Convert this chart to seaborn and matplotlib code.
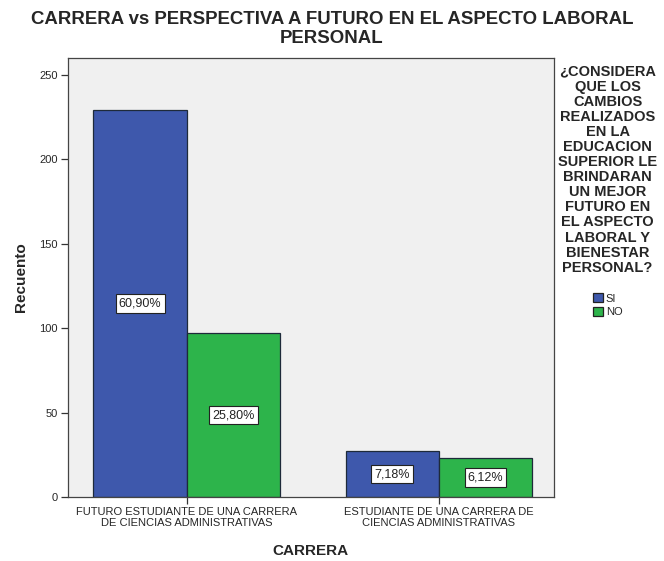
import matplotlib
matplotlib.use("Agg")
import matplotlib.pyplot as plt
import seaborn as sns
import pandas as pd

# data
carreras = [
    "FUTURO ESTUDIANTE DE UNA CARRERA\nDE CIENCIAS ADMINISTRATIVAS",
    "ESTUDIANTE DE UNA CARRERA DE\nCIENCIAS ADMINISTRATIVAS",
]
respuestas = ["SI", "NO"]
recuento_si = [229, 27]
recuento_no = [97, 23]

df = pd.DataFrame({
    "CARRERA": carreras * 2,
    "respuesta": ["SI"] * 2 + ["NO"] * 2,
    "Recuento": recuento_si + recuento_no,
})
total = df["Recuento"].sum()

sns.set_theme(style="white")
plt.rcParams["font.family"] = ["Liberation Sans", "DejaVu Sans"]

fig = plt.figure(figsize=(6.64, 5.61), dpi=100)
ax = fig.add_axes([0.102, 0.114, 0.732, 0.783])
ax.set_facecolor("#F0F0F0")

sns.barplot(
    data=df, x="CARRERA", y="Recuento", hue="respuesta", hue_order=respuestas,
    order=carreras, palette=["#3E58AC", "#2DB44B"], width=0.74, gap=0,
    edgecolor="#1E2A3A", linewidth=0.9, saturation=1, ax=ax, legend=True,
)

for cont in ax.containers:
    vals = cont.datavalues
    labels = [f"{v / total * 100:.2f}%".replace(".", ",") for v in vals]
    ax.bar_label(
        cont, labels=labels, label_type="center", fontsize=9, color="#222222",
        bbox=dict(boxstyle="square,pad=0.25", fc="white", ec="#222222", lw=0.8),
    )

ax.set_ylim(0, 260)
ax.set_xlim(-0.472, 1.456)
ax.set_yticks([0, 50, 100, 150, 200, 250])
ax.tick_params(axis="both", direction="out", length=5, width=0.9, color="#333333",
               labelsize=8, left=True, bottom=True, pad=2)
for s in ax.spines.values():
    s.set_color("#444444")
    s.set_linewidth(0.9)

ax.set_xlabel("CARRERA", fontsize=11, fontweight="bold", labelpad=11)
ax.set_ylabel("Recuento", fontsize=11, fontweight="bold", labelpad=8)

fig.suptitle("CARRERA vs PERSPECTIVA A FUTURO EN EL ASPECTO LABORAL\nPERSONAL",
             fontsize=13.4, fontweight="bold", y=0.98, linespacing=1.1)

leg_title = ("¿CONSIDERA\nQUE LOS\nCAMBIOS\nREALIZADOS\nEN LA\nEDUCACION\nSUPERIOR LE\n"
             "BRINDARAN\nUN MEJOR\nFUTURO EN\nEL ASPECTO\nLABORAL Y\nBIENESTAR\nPERSONAL?\n ")
leg = ax.legend(title=leg_title, loc="upper left", bbox_to_anchor=(0.995, 1.0),
                frameon=False, fontsize=8, handlelength=0.9, handleheight=0.9,
                handletextpad=0.3, labelspacing=0.3, alignment="center",
                borderaxespad=0.2)
leg.get_title().set_fontweight("bold")
leg.get_title().set_fontsize(10.5)
leg.get_title().set_multialignment("center")
leg.get_title().set_linespacing(1.1)
for h in leg.legend_handles:
    h.set_edgecolor("#222222")

fig.savefig("out.png", dpi=100)
